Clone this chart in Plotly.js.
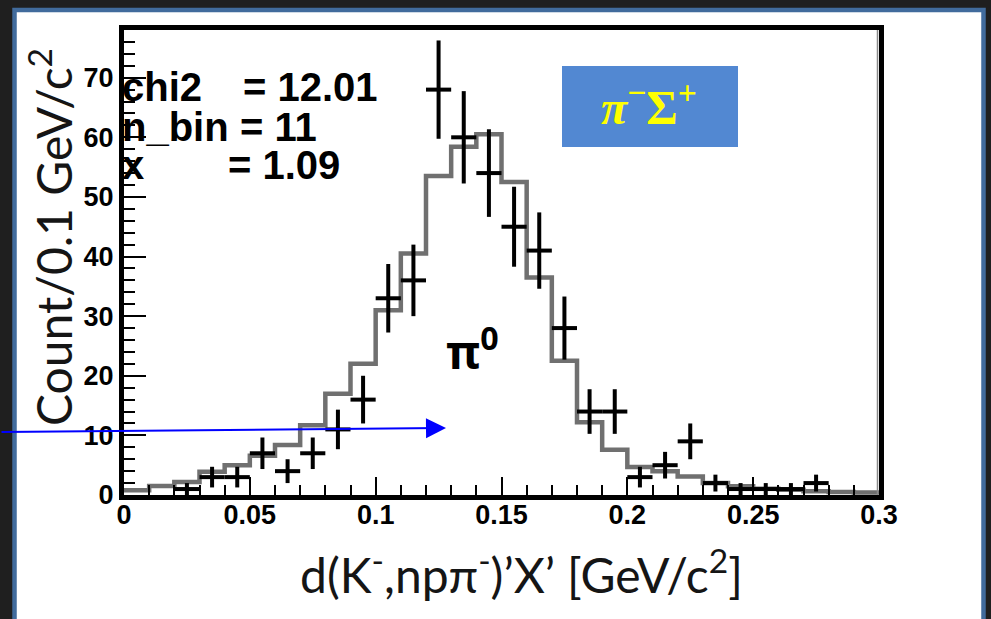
<!DOCTYPE html>
<html>
<head>
<meta charset="utf-8">
<script src="https://cdn.plot.ly/plotly-3.0.1.min.js"></script>
<style>
  html, body { margin: 0; padding: 0; background: #1f1f1f; }
  #chart { width: 991px; height: 619px; }
</style>
</head>
<body>
<div id="chart"></div>
<script>
// ---------- data ----------
// measured counts: bin centres (GeV/c^2) and counts per 0.01 bin
const dataX = [0.025, 0.035, 0.045, 0.055, 0.065, 0.075, 0.085, 0.095, 0.105, 0.115,
               0.125, 0.135, 0.145, 0.155, 0.165, 0.175, 0.185, 0.195, 0.205, 0.215,
               0.225, 0.235, 0.245, 0.255, 0.265, 0.275];
const dataY = [1, 3, 3, 7, 4, 7, 11, 16, 33, 36,
               68, 60, 54, 45, 41, 28, 14, 14, 3, 5,
               9, 2, 1, 1, 1, 2];
// fitted / simulated histogram (grey step line): bin edges and contents
const histEdges = [0.00, 0.01, 0.02, 0.03, 0.04, 0.05, 0.06, 0.07, 0.08, 0.09,
                   0.10, 0.11, 0.12, 0.13, 0.14, 0.15, 0.16, 0.17, 0.18, 0.19,
                   0.20, 0.21, 0.22, 0.23, 0.24, 0.25, 0.26, 0.27, 0.28, 0.29, 0.30];
const histY = [0.8, 1.5, 2.2, 3.9, 5.0, 6.6, 8.4, 11.7, 17.0, 22.0,
               31.0, 40.5, 53.5, 58.4, 60.5, 52.5, 36.5, 22.5, 12.2, 7.6,
               4.7, 4.0, 3.1, 2.0, 1.45, 1.05, 0.9, 0.65, 0.5, 0.4];
const binWidth = 0.01;
// text
const statsNames = ["chi2", "n_bin", "x"];
const statsValues = ["= 12.01", "= 11", "= 1.09"];
const xTitle = "d(K<sup>-</sup>,npπ<sup>-</sup>)’X’ [GeV/c<sup>2</sup>]";
const yTitle = "Count/0.1 GeV/c<sup>2</sup>";
const peakLabel = "π<sup>0</sup>";
const channelLabel = "<b><i>π</i><sup>−</sup>Σ<sup>+</sup></b>";

// ---------- layout geometry ----------
const W = 991, H = 619;
const M = { l: 124, r: 112, t: 30, b: 124 };
const PW = W - M.l - M.r, PH = H - M.t - M.b;
const px = p => (p - M.l) / PW;            // pixel x -> paper x
const py = p => (H - M.b - p) / PH;        // pixel y -> paper y

const stepY = histY.concat([histY[histY.length - 1]]);

const traces = [
  {
    type: "scatter", mode: "lines",
    x: histEdges, y: stepY,
    line: { shape: "hv", color: "#707070", width: 4.5 },
    hoverinfo: "skip", showlegend: false
  },
  {
    type: "scatter", mode: "markers",
    x: dataX, y: dataY,
    marker: { size: 2, color: "#000" },
    error_y: { type: "data", array: dataY.map(v => Math.sqrt(v)), color: "#000", thickness: 4, width: 0 },
    error_x: { type: "constant", value: binWidth / 2, color: "#000", thickness: 4, width: 0 },
    showlegend: false
  }
];

const tickFont = { family: "Liberation Sans, Arial, sans-serif", size: 27, color: "#000", weight: "bold" };
const statFont = { family: "Liberation Sans, Arial, sans-serif", size: 40, color: "#000", weight: "bold" };

const annotations = [];
const statBase = [99, 139, 177];
const valLeft = [243, 240, 228];
statsNames.forEach((s, i) => {
  annotations.push({ xref: "paper", yref: "paper", x: px(120), y: py(statBase[i] - 12),
    xanchor: "left", yanchor: "middle", text: s, showarrow: false, font: statFont });
  annotations.push({ xref: "paper", yref: "paper", x: px(valLeft[i] - 2), y: py(statBase[i] - 12),
    xanchor: "left", yanchor: "middle", text: statsValues[i], showarrow: false, font: statFont });
});
// pi0 label
annotations.push({ xref: "paper", yref: "paper", x: px(472), y: py(349),
  xanchor: "center", yanchor: "middle", text: "<b>" + peakLabel + "</b>", showarrow: false,
  font: { family: "Noto Sans, DejaVu Sans, sans-serif", size: 46, color: "#000" } });
// channel box label
annotations.push({ xref: "paper", yref: "paper", x: px(649), y: py(104),
  xanchor: "center", yanchor: "middle", text: channelLabel, showarrow: false,
  font: { family: "Liberation Serif, DejaVu Serif, serif", size: 48, color: "#ffff00" } });
// axis titles
annotations.push({ xref: "paper", yref: "paper", x: px(521), y: py(571),
  xanchor: "center", yanchor: "middle", text: xTitle, showarrow: false,
  font: { family: "Lato, Open Sans, sans-serif", size: 48, color: "#151515" } });
annotations.push({ xref: "paper", yref: "paper", x: px(50), y: py(237),
  xanchor: "center", yanchor: "middle", text: yTitle, showarrow: false, textangle: -90,
  font: { family: "Lato, Open Sans, sans-serif", size: 48, color: "#151515" } });
// blue arrow
annotations.push({ xref: "paper", yref: "paper", x: px(446), y: py(428),
  axref: "pixel", ayref: "pixel", ax: -446, ay: 4, text: "", showarrow: true,
  arrowhead: 2, arrowsize: 2.0, arrowwidth: 2, arrowcolor: "#0000ff", standoff: 0 });

const shapes = [
  // white slide panel with blue border
  { type: "rect", xref: "paper", yref: "paper", layer: "below",
    x0: px(14.5), x1: px(983.5), y0: py(10), y1: py(660),
    fillcolor: "#ffffff", line: { color: "#416b9c", width: 4.5 } },
  // channel box
  { type: "rect", xref: "paper", yref: "paper", layer: "above",
    x0: px(562), x1: px(738), y0: py(66), y1: py(147),
    fillcolor: "#5288d2", line: { width: 0 } },
  // thin grey inner line on right frame
  { type: "line", xref: "paper", yref: "paper", layer: "above",
    x0: px(877.5), x1: px(877.5), y0: 0, y1: 1,
    line: { color: "#8a8a8a", width: 1.5 } }
];

const layout = {
  width: W, height: H,
  margin: M,
  paper_bgcolor: "#1f1f1f",
  plot_bgcolor: "#ffffff",
  showlegend: false,
  xaxis: {
    range: [0, 0.3], dtick: 0.05, tick0: 0,
    ticks: "inside", ticklen: 18, tickwidth: 2, tickcolor: "#000",
    minor: { dtick: 0.01, ticks: "inside", ticklen: 10, tickwidth: 2, tickcolor: "#000" },
    showline: true, linewidth: 5, linecolor: "#000", mirror: true,
    showgrid: false, zeroline: false,
    tickfont: tickFont, tickformat: "~g", ticklabelstandoff: -8
  },
  yaxis: {
    range: [0, 78], dtick: 10, tick0: 0,
    ticks: "inside", ticklen: 22, tickwidth: 2, tickcolor: "#000",
    minor: { dtick: 2, ticks: "inside", ticklen: 11, tickwidth: 2, tickcolor: "#000" },
    showline: true, linewidth: 5, linecolor: "#000", mirror: true,
    showgrid: false, zeroline: false,
    tickfont: tickFont
  },
  annotations: annotations,
  shapes: shapes
};

Plotly.newPlot("chart", traces, layout, { staticPlot: true, displayModeBar: false });
</script>
</body>
</html>
